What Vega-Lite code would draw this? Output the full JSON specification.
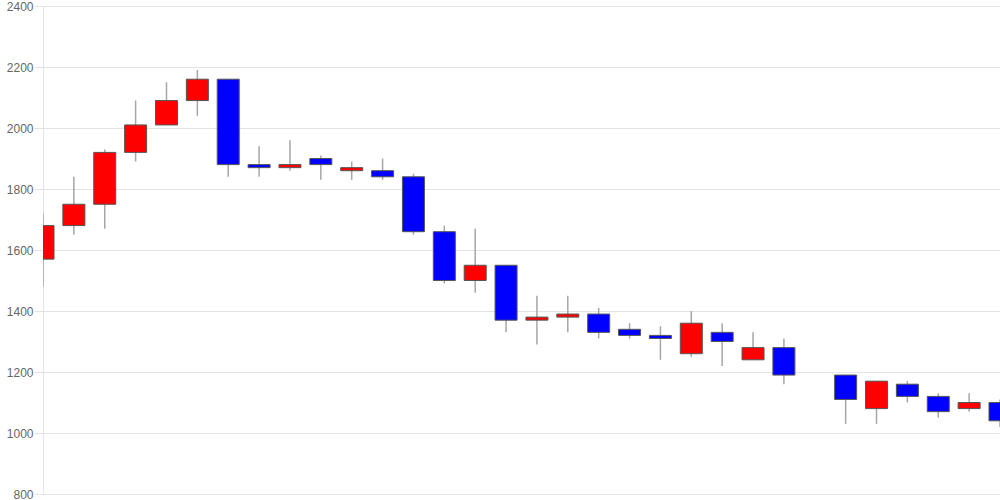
{
  "$schema": "https://vega.github.io/schema/vega-lite/v6.json",
  "width": 957,
  "height": 488,
  "autosize": {"type": "none"},
  "padding": {"left": 43, "top": 6, "right": 0, "bottom": 6},
  "background": "white",
  "view": {"stroke": null},
  "config": {
    "axis": {"labelFont": "Liberation Sans", "labelFontSize": 12, "labelColor": "#666666"}
  },
  "data": {
    "values": [
      {"i": 0, "open": 1570, "high": 1720, "low": 1480, "close": 1680},
      {"i": 1, "open": 1680, "high": 1840, "low": 1650, "close": 1750},
      {"i": 2, "open": 1750, "high": 1930, "low": 1670, "close": 1920},
      {"i": 3, "open": 1920, "high": 2090, "low": 1890, "close": 2010},
      {"i": 4, "open": 2010, "high": 2150, "low": 2010, "close": 2090},
      {"i": 5, "open": 2090, "high": 2190, "low": 2040, "close": 2160},
      {"i": 6, "open": 2160, "high": 2160, "low": 1840, "close": 1880},
      {"i": 7, "open": 1880, "high": 1940, "low": 1840, "close": 1870},
      {"i": 8, "open": 1870, "high": 1960, "low": 1860, "close": 1880},
      {"i": 9, "open": 1900, "high": 1910, "low": 1830, "close": 1880},
      {"i": 10, "open": 1860, "high": 1890, "low": 1830, "close": 1870},
      {"i": 11, "open": 1860, "high": 1900, "low": 1830, "close": 1840},
      {"i": 12, "open": 1840, "high": 1850, "low": 1650, "close": 1660},
      {"i": 13, "open": 1660, "high": 1680, "low": 1490, "close": 1500},
      {"i": 14, "open": 1500, "high": 1670, "low": 1460, "close": 1550},
      {"i": 15, "open": 1550, "high": 1550, "low": 1330, "close": 1370},
      {"i": 16, "open": 1370, "high": 1450, "low": 1290, "close": 1380},
      {"i": 17, "open": 1380, "high": 1450, "low": 1330, "close": 1390},
      {"i": 18, "open": 1390, "high": 1410, "low": 1310, "close": 1330},
      {"i": 19, "open": 1340, "high": 1360, "low": 1310, "close": 1320},
      {"i": 20, "open": 1320, "high": 1350, "low": 1240, "close": 1310},
      {"i": 21, "open": 1260, "high": 1400, "low": 1250, "close": 1360},
      {"i": 22, "open": 1330, "high": 1360, "low": 1220, "close": 1300},
      {"i": 23, "open": 1240, "high": 1330, "low": 1240, "close": 1280},
      {"i": 24, "open": 1280, "high": 1310, "low": 1160, "close": 1190},
      {"i": 26, "open": 1190, "high": 1190, "low": 1030, "close": 1110},
      {"i": 27, "open": 1080, "high": 1170, "low": 1030, "close": 1170},
      {"i": 28, "open": 1160, "high": 1170, "low": 1100, "close": 1120},
      {"i": 29, "open": 1120, "high": 1130, "low": 1050, "close": 1070},
      {"i": 30, "open": 1080, "high": 1130, "low": 1070, "close": 1100},
      {"i": 31, "open": 1100, "high": 1110, "low": 1020, "close": 1040}
    ]
  },
  "encoding": {
    "x": {"field": "i", "type": "quantitative", "scale": {"domain": [0, 31], "nice": false, "zero": false, "padding": 0}, "axis": null}
  },
  "layer": [
    {
      "mark": {"type": "rule", "clip": true, "color": "#a6a6a6", "strokeWidth": 1.5},
      "encoding": {
        "y": {
          "field": "low", "type": "quantitative",
          "scale": {"domain": [800, 2400], "nice": false, "zero": false},
          "axis": {
            "title": null,
            "format": "d",
            "values": [800, 1000, 1200, 1400, 1600, 1800, 2000, 2200, 2400],
            "domainColor": "#e3e3e3",
            "tickColor": "#e3e3e3",
            "tickSize": 9,
            "labelPadding": 1,
            "gridColor": "#e3e3e3",
            "grid": true
          }
        },
        "y2": {"field": "high"}
      }
    },
    {
      "mark": {"type": "bar", "clip": true, "size": 22, "stroke": "#555555", "strokeWidth": 1},
      "encoding": {
        "y": {"field": "open", "type": "quantitative"},
        "y2": {"field": "close"},
        "color": {
          "condition": {"test": "datum.close > datum.open", "value": "#ff0000"},
          "value": "#0000ff"
        }
      }
    }
  ]
}
